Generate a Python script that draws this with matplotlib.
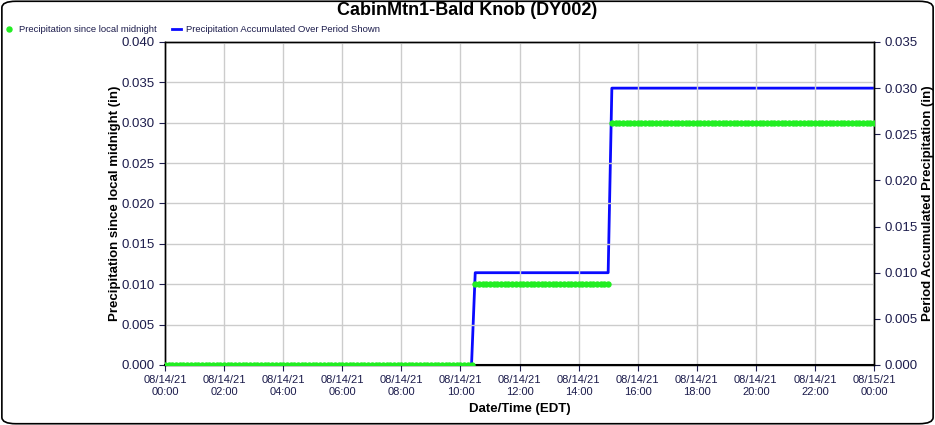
import numpy as np
import matplotlib
matplotlib.use("Agg")
import matplotlib.pyplot as plt
from matplotlib.patches import FancyBboxPatch

plt.rcParams["font.family"] = ["Liberation Sans", "DejaVu Sans"]

# --- data (7.5-minute samples on 08/14/21) ---
step_hours = 7.5 / 60.0
n_points = 193                      # 00:00 .. 24:00
# run-length form: value levels and how many samples each level lasts
green_levels = [0.0, 0.01, 0.03]
green_counts = [84, 37, 72]
blue_levels = [0.0, 0.01, 0.03]
blue_counts = [84, 37, 72]

tick_hours = [0, 2, 4, 6, 8, 10, 12, 14, 16, 18, 20, 22, 24]
tick_labels = ["08/14/21\n00:00", "08/14/21\n02:00", "08/14/21\n04:00",
               "08/14/21\n06:00", "08/14/21\n08:00", "08/14/21\n10:00",
               "08/14/21\n12:00", "08/14/21\n14:00", "08/14/21\n16:00",
               "08/14/21\n18:00", "08/14/21\n20:00", "08/14/21\n22:00",
               "08/15/21\n00:00"]

hours = np.arange(n_points) * step_hours
green = np.repeat(green_levels, green_counts)
blue = np.repeat(blue_levels, blue_counts)

tick_color = "#1c1c4c"

fig = plt.figure(figsize=(9.35, 4.25), dpi=100)
ax = fig.add_axes([0.1765, 0.1412, 0.7583, 0.76])
ax2 = ax.twinx()

ax.plot(hours, green, linestyle="none", marker="o", markersize=3.6,
        color="#22ee22", zorder=4, label="Precipitation since local midnight")
ax2.plot(hours, blue, color="#0a0aff", linewidth=2,
         label="Precipitation Accumulated Over Period Shown")
ax.set_zorder(ax2.get_zorder() + 1)
ax.patch.set_visible(False)

ax.set_xlim(0, 24)
ax.set_ylim(0, 0.04)
ax2.set_ylim(0, 0.035)
ax.set_yticks(np.arange(0, 0.0401, 0.005))
ax2.set_yticks(np.arange(0, 0.0351, 0.005))
ax.yaxis.set_major_formatter(plt.FuncFormatter(lambda v, _: f"{v:.3f}"))
ax2.yaxis.set_major_formatter(plt.FuncFormatter(lambda v, _: f"{v:.3f}"))
ax.set_xticks(tick_hours)
ax.set_xticklabels(tick_labels)

ax.grid(True, color="#cccccc", linewidth=1)
ax.tick_params(axis="y", labelsize=9.5, colors=tick_color, length=4)
ax.tick_params(axis="x", labelsize=8, colors=tick_color, length=4)
ax2.tick_params(axis="y", labelsize=9.5, colors=tick_color, length=4)
for a in (ax, ax2):
    for s in a.spines.values():
        s.set_color("black")
        s.set_linewidth(1)
ax.spines["bottom"].set_linewidth(1.5)

ax.set_xlabel("Date/Time (EDT)", fontsize=9.5, fontweight="bold", labelpad=4)
ax.set_ylabel("Precipitation since local midnight (in)", fontsize=9.5,
              fontweight="bold", labelpad=0.5)
ax2.set_ylabel("Period Accumulated Precipitation (in)", fontsize=9.5,
               fontweight="bold", labelpad=3)

fig.text(0.5, 0.975, "CabinMtn1-Bald Knob (DY002)", ha="center", va="center",
         fontsize=13, fontweight="bold")

h1, l1 = ax.get_legend_handles_labels()
h2, l2 = ax2.get_legend_handles_labels()
fig.legend(h1 + h2, l1 + l2, loc="center left", bbox_to_anchor=(-0.004, 0.931),
           ncol=2, frameon=False, fontsize=6.8, handlelength=1.0,
           handletextpad=0.5, columnspacing=1.6, labelcolor=tick_color,
           markerscale=1.0)

border = FancyBboxPatch((0.002, 0.003), 0.996, 0.994,
                        boxstyle="round,pad=0,rounding_size=0.015",
                        transform=fig.transFigure, fill=False,
                        edgecolor="black", linewidth=1.2)
fig.patches.append(border)

fig.savefig("out.png", dpi=100)
